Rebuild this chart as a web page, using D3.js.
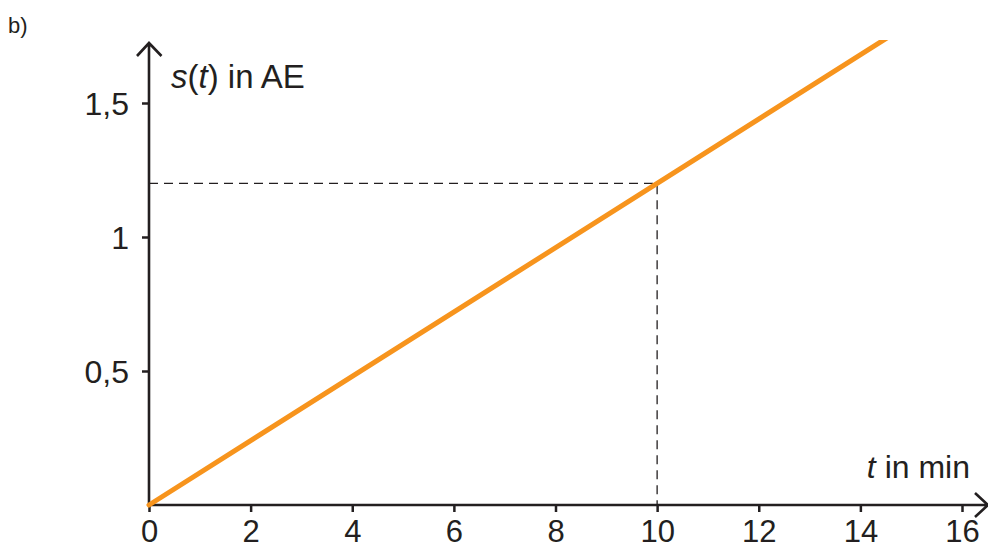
<!DOCTYPE html>
<html>
<head>
<meta charset="utf-8">
<script src="https://cdn.jsdelivr.net/npm/d3@7"></script>
<style>
  html, body { margin: 0; padding: 0; background: #fff; }
  svg { display: block; font-family: "Liberation Sans", Arial, sans-serif; }
</style>
</head>
<body>
<div id="chart"></div>
<script>
// --- Data ---
const xTicks = [0, 2, 4, 6, 8, 10, 12, 14, 16];
const yTicks = [0.5, 1, 1.5];
const yTickLabels = ["0,5", "1", "1,5"];
const linePoints = [[0, 0], [14.6, 1.752]];   // s(t) = 0.12 t
const marked = { t: 10, s: 1.2 };

const width = 988, height = 550;
const ink = "#231f20";
const font = "'Liberation Sans', Arial, sans-serif";

const svg = d3.select("#chart")
  .append("svg")
  .attr("width", width)
  .attr("height", height);

// --- Scales ---
const x = d3.scaleLinear().domain([0, 16]).range([149, 962]);
const y = d3.scaleLinear().domain([0, 1.5]).range([505, 103]);

// clip so the line ends flat near the top
svg.append("clipPath").attr("id", "plot")
  .append("rect")
  .attr("x", x(0) - 10).attr("y", 40)
  .attr("width", width).attr("height", 480);

// --- Dashed guide ---
svg.append("path")
  .attr("d", `M${x(0)},${y(marked.s)}H${x(marked.t)}V${y(0)}`)
  .attr("fill", "none")
  .attr("stroke", ink)
  .attr("stroke-width", 1.3)
  .attr("stroke-dasharray", "9,6");

// --- Axes ---
const xAxis = svg.append("g")
  .attr("transform", `translate(0,${y(0)})`)
  .call(d3.axisBottom(x).tickValues(xTicks).tickSize(7).tickFormat(d3.format("d")));

const yAxis = svg.append("g")
  .attr("transform", `translate(${x(0)},0)`)
  .call(d3.axisLeft(y).tickValues(yTicks).tickSize(7)
    .tickFormat((d, i) => yTickLabels[i]));

[xAxis, yAxis].forEach(g => {
  g.select(".domain").remove();
  g.selectAll(".tick line").attr("stroke", ink).attr("stroke-width", 2.5);
  g.selectAll(".tick text")
    .attr("fill", ink)
    .style("font-size", "32px")
    .style("font-family", font);
});
// keep the bottom labels inside the frame
xAxis.selectAll(".tick text").attr("y", 37).attr("dy", 0).style("font-size", "31px");
yAxis.selectAll(".tick text").attr("x", -20).attr("dy", "0.36em");

// axis lines with open arrowheads
svg.append("path")
  .attr("d", `M${x(0)},${y(0) + 1}V43 M137,56L${x(0)},43L161.5,56`)
  .attr("fill", "none").attr("stroke", ink).attr("stroke-width", 2.6);
svg.append("path")
  .attr("d", `M${x(0) - 1},${y(0)}H988 M975,${y(0) - 12}L988,${y(0)}L975,${y(0) + 12}`)
  .attr("fill", "none").attr("stroke", ink).attr("stroke-width", 2.6);

// --- Line ---
const line = d3.line().x(d => x(d[0])).y(d => y(d[1]));
svg.append("path")
  .datum(linePoints)
  .attr("clip-path", "url(#plot)")
  .attr("d", line)
  .attr("fill", "none")
  .attr("stroke", "#f7941d")
  .attr("stroke-width", 5)
  .attr("stroke-linecap", "round");

// --- Labels ---
const yLabel = svg.append("text")
  .attr("x", 171).attr("y", 88)
  .attr("fill", ink).style("font-size", "33px");
yLabel.append("tspan").attr("font-style", "italic").text("s");
yLabel.append("tspan").text("(");
yLabel.append("tspan").attr("font-style", "italic").text("t");
yLabel.append("tspan").text(") in AE");

const xLabel = svg.append("text")
  .attr("x", 970).attr("y", 478)
  .attr("text-anchor", "end")
  .attr("fill", ink).style("font-size", "32px");
xLabel.append("tspan").attr("font-style", "italic").text("t");
xLabel.append("tspan").text(" in min");

svg.append("text")
  .attr("x", 8).attr("y", 33)
  .attr("fill", ink).style("font-size", "22px")
  .text("b)");
</script>
</body>
</html>
